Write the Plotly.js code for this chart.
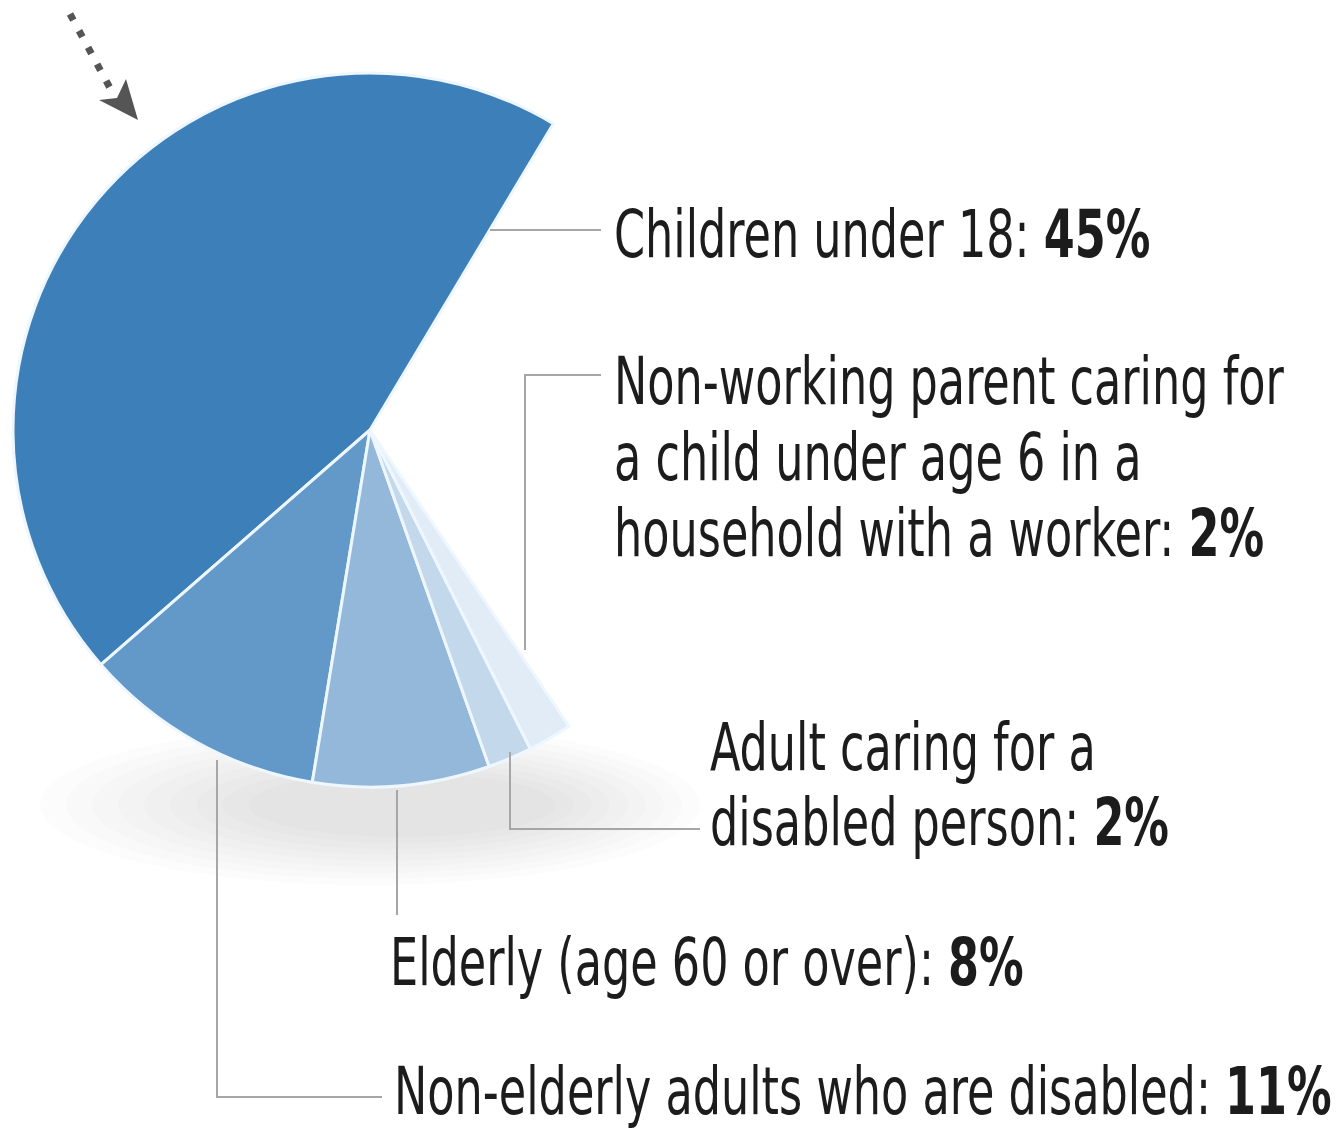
<!DOCTYPE html>
<html><head><meta charset="utf-8">
<script src="https://cdn.plot.ly/plotly-3.0.1.min.js"></script>
<style>
html,body{margin:0;padding:0;background:#fff;}
.annotation-text{transform-box:fill-box;transform-origin:0 50%;transform:scaleX(0.75);}
</style>
</head><body><div id="chart" style="width:1344px;height:1132px;"></div>
<script>
// ---- data ----
const categories = ["Children under 18", "Non-elderly adults who are disabled", "Elderly (age 60 or over)", "Adult caring for a disabled person", "Non-working parent caring for a child under age 6 in a household with a worker", "Remainder (not shown)"];
const shares = [45, 11, 8, 2, 2, 32];
const sliceColors = ["#3d80b9", "#6299c8", "#93b8da", "#c4d8ec", "#e2ecf6", "rgba(0,0,0,0)"];
const labelLines = [
  ["Children under 18: <b>45%</b>"],
  ["Non-elderly adults who are disabled: <b>11%</b>"],
  ["Elderly (age 60 or over): <b>8%</b>"],
  ["Adult caring for a", "disabled person: <b>2%</b>"],
  ["Non-working parent caring for", "a child under age 6 in a", "household with a worker: <b>2%</b>"]
];

// ---- layout helpers (pixel -> paper) ----
const W = 1344, H = 1132;
const px = x => x / W;
const py = y => 1 - y / H;
const FONT = '"DejaVu Sans Condensed", "Liberation Sans Narrow", sans-serif';
const FS = 66;

// label positions: [left x, first baseline, line step]
const labelPos = [
  [612, 257, 0],
  [392, 1114, 0],
  [388, 985, 0],
  [708, 770, 75],
  [612, 404, 76]
];

const annotations = [];
labelLines.forEach((lines, i) => {
  const [x0, b0, step] = labelPos[i];
  lines.forEach((t, j) => {
    const base = b0 + j * step;
    annotations.push({
      xref: 'paper', yref: 'paper', x: px(x0), y: py(base - 0.346 * FS),
      xanchor: 'left', yanchor: 'middle', showarrow: false, text: t,
      font: {family: FONT, size: FS, color: '#1c1c1c'}
    });
  });
});

const lineStyle = {color: '#a6a6a6', width: 2};
const seg = (pts) => ({
  type: 'path', xref: 'paper', yref: 'paper', layer: 'above',
  path: pts.map((p, k) => (k ? 'L' : 'M') + px(p[0]) + ',' + py(p[1])).join(' '),
  line: lineStyle
});

const shapes = [];
// soft shadow under the pie
for (let k = 0; k < 9; k++) {
  const rx = 330 - k * 22, ry = 80 - k * 6, cxs = 370 + k * 4, cys = 805;
  shapes.push({type: 'circle', xref: 'paper', yref: 'paper', layer: 'below',
    x0: px(cxs - rx), x1: px(cxs + rx), y0: py(cys + ry), y1: py(cys - ry),
    fillcolor: 'rgba(0,0,0,0.011)', line: {width: 0}});
}
// leader lines
shapes.push(seg([[490, 230], [601, 230]]));
shapes.push(seg([[601, 375], [525, 375], [525, 650]]));
shapes.push(seg([[510, 752], [510, 829], [700, 829]]));
shapes.push(seg([[397, 790], [397, 915]]));
shapes.push(seg([[217, 760], [217, 1097], [382, 1097]]));
// dotted arrow
shapes.push({type: 'line', xref: 'paper', yref: 'paper', layer: 'above',
  x0: px(70), y0: py(14), x1: px(110), y1: py(88),
  line: {color: '#555', width: 7, dash: '7px,12px'}});
shapes.push({type: 'path', xref: 'paper', yref: 'paper', layer: 'above',
  path: 'M' + px(138) + ',' + py(120) + ' L' + px(99) + ',' + py(100) + ' L' + px(117) + ',' + py(98) + ' L' + px(126) + ',' + py(79) + ' Z',
  fillcolor: '#555', line: {width: 0}});

// pie geometry: centre (370,430), radius 357
const cx = 370, cy = 430, R = 357;
const trace = {
  type: 'pie',
  labels: categories,
  values: shares,
  sort: false,
  direction: 'counterclockwise',
  rotation: 228.9,
  textinfo: 'none',
  hoverinfo: 'none',
  showlegend: false,
  marker: {
    colors: sliceColors,
    line: {color: ['#eef7ff', '#eef7ff', '#eef7ff', '#eef7ff', '#eef7ff', 'rgba(0,0,0,0)'], width: [3, 3, 3, 3, 3, 0]}
  },
  domain: {x: [px(cx - R), px(cx + R)], y: [py(cy + R), py(cy - R)]}
};

const layout = {
  width: W, height: H,
  margin: {l: 0, r: 0, t: 0, b: 0},
  paper_bgcolor: '#ffffff', plot_bgcolor: '#ffffff',
  showlegend: false,
  annotations: annotations,
  shapes: shapes
};

Plotly.newPlot('chart', [trace], layout, {displayModeBar: false, staticPlot: true});
</script>
</body></html>
